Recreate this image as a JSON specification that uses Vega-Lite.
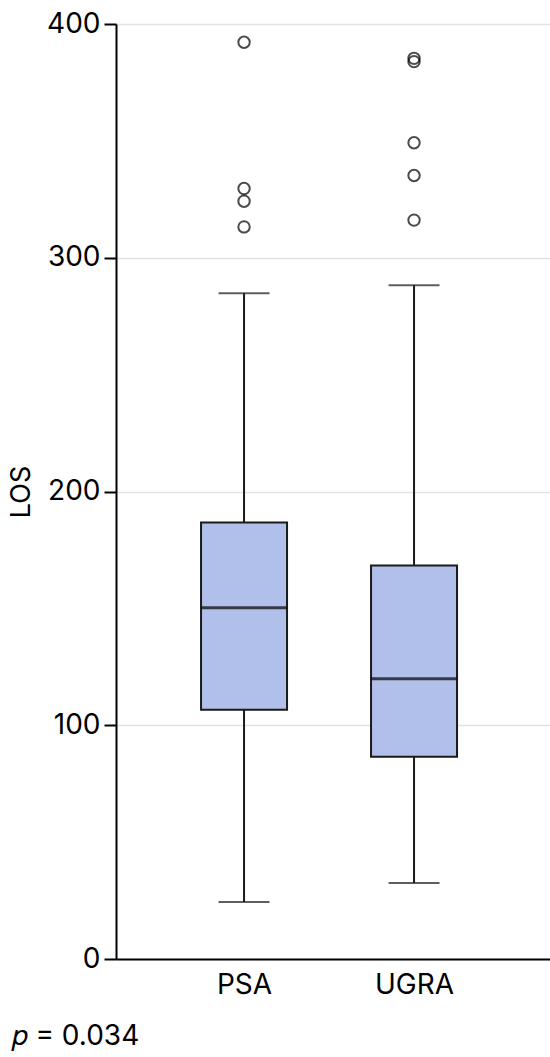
{
  "$schema": "https://vega.github.io/schema/vega-lite/v6.json",
  "width": 434,
  "height": 935,
  "autosize": "none",
  "padding": {"left": 116, "top": 24, "right": 0, "bottom": 98},
  "background": "white",
  "config": {"view": {"stroke": null}, "font": "Inter"},
  "title": {
    "text": "𝑝 = 0.034",
    "orient": "bottom",
    "anchor": "start",
    "frame": "bounds",
    "fontSize": 28,
    "fontWeight": "normal",
    "color": "black",
    "offset": 24,
    "dx": 4
  },
  "datasets": {
    "boxes": [
      {"group": "PSA", "lower": 24.4, "q1": 106.6, "median": 150.3, "q3": 186.7, "upper": 284.8},
      {"group": "UGRA", "lower": 32.5, "q1": 86.5, "median": 119.9, "q3": 168.3, "upper": 288.2}
    ],
    "outliers": [
      {"group": "PSA", "LOS": 392.2},
      {"group": "PSA", "LOS": 329.6},
      {"group": "PSA", "LOS": 324.2},
      {"group": "PSA", "LOS": 313.2},
      {"group": "UGRA", "LOS": 385.3},
      {"group": "UGRA", "LOS": 383.9},
      {"group": "UGRA", "LOS": 349.2},
      {"group": "UGRA", "LOS": 335.2},
      {"group": "UGRA", "LOS": 316.1}
    ]
  },
  "encoding": {
    "x": {
      "field": "group",
      "type": "nominal",
      "scale": {"type": "point", "padding": 0.7765, "align": 0.485},
      "axis": {
        "title": null,
        "labelAngle": 0,
        "ticks": false,
        "tickSize": 0,
        "labelPadding": 12,
        "labelFontSize": 28,
        "labelColor": "black",
        "domainColor": "black",
        "domainWidth": 2,
        "grid": false
      }
    }
  },
  "layer": [
    {
      "data": {"name": "boxes"},
      "mark": {"type": "rule", "color": "#1a1a1a", "strokeWidth": 2},
      "encoding": {
        "y": {
          "field": "lower",
          "type": "quantitative",
          "scale": {"domain": [0, 400]},
          "axis": {
            "title": "LOS",
            "values": [0, 100, 200, 300, 400],
            "tickSize": 12,
            "tickColor": "black",
            "tickWidth": 2,
            "domainColor": "black",
            "domainWidth": 2,
            "labelFontSize": 28,
            "labelColor": "black",
            "labelPadding": 4,
            "titleFontSize": 27,
            "titleFontWeight": "normal",
            "titleColor": "black",
            "titlePadding": 11,
            "gridColor": "#e2e2e2",
            "gridWidth": 1.5
          }
        },
        "y2": {"field": "upper"}
      }
    },
    {
      "data": {"name": "boxes"},
      "mark": {"type": "tick", "color": "#1a1a1a", "size": 51, "thickness": 2},
      "encoding": {"y": {"field": "lower", "type": "quantitative"}}
    },
    {
      "data": {"name": "boxes"},
      "mark": {"type": "tick", "color": "#1a1a1a", "size": 51, "thickness": 2},
      "encoding": {"y": {"field": "upper", "type": "quantitative"}}
    },
    {
      "data": {"name": "boxes"},
      "mark": {"type": "bar", "width": 86, "fill": "#b1bfeb", "stroke": "#1a1a1a", "strokeWidth": 2},
      "encoding": {
        "y": {"field": "q1", "type": "quantitative"},
        "y2": {"field": "q3"}
      }
    },
    {
      "data": {"name": "boxes"},
      "mark": {"type": "tick", "color": "black", "size": 85, "thickness": 3},
      "encoding": {"y": {"field": "median", "type": "quantitative"}}
    },
    {
      "data": {"name": "outliers"},
      "mark": {"type": "point", "shape": "circle", "filled": false, "color": "black", "size": 130, "strokeWidth": 2},
      "encoding": {"y": {"field": "LOS", "type": "quantitative"}}
    }
  ]
}
